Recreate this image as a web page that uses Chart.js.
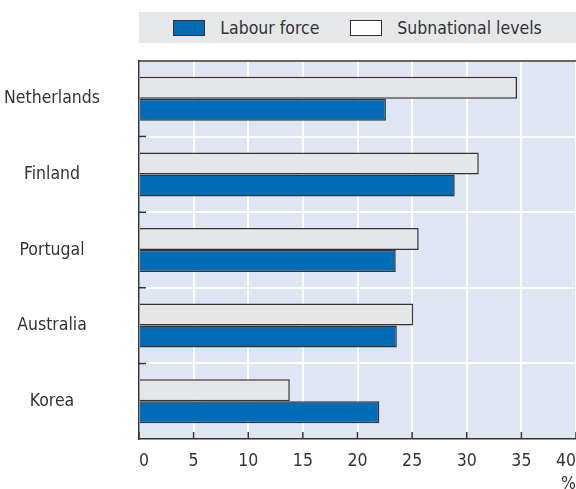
<!DOCTYPE html>
<html>
<head>
<meta charset="utf-8">
<script src="https://cdn.jsdelivr.net/npm/chart.js@4.4.1/dist/chart.umd.min.js"></script>
<style>
    html, body { margin: 0; padding: 0; background: #fff; overflow: hidden; }
    #wrap { position: relative; width: 576px; height: 489px; }
    #legend {
        position: absolute; left: 139px; top: 12px; width: 437px; height: 31px;
        background: #e6e7e9; display: flex; align-items: center; justify-content: center;
        font-family: 'DejaVu Sans Condensed', sans-serif;
        font-size: 17.5px; color: #333;
    }
    .key { display: inline-block; width: 30px; height: 14px; border: 1px solid #333; margin-right: 15px; }
    .gap { display: inline-block; width: 31px; }
</style>
</head>
<body>
<div id="wrap">
    <canvas id="chart" width="576" height="489"></canvas>
    <div id="legend"></div>
</div>
<script>
const countries = ['Netherlands', 'Finland', 'Portugal', 'Australia', 'Korea'];
const labourForce = [22.6, 28.9, 23.5, 23.6, 22.0];
const subnational = [34.6, 31.1, 25.6, 25.1, 13.8];
const xTicks = [0, 5, 10, 15, 20, 25, 30, 35, 40];

const BLUE = '#006bb6';
const GREY = '#e5e6e8';
const INK = '#333333';
const FONT = "'DejaVu Sans Condensed', sans-serif";

// legend: labour force first, like the usual publication layout
document.getElementById('legend').innerHTML =
    `<span class="key" style="background:${BLUE}"></span><span>Labour force</span>` +
    `<span class="gap"></span>` +
    `<span class="key" style="background:#fff"></span><span>Subnational levels</span>`;

// panel background, top rule and the short inward ticks on both axes
const plotFrame = {
    id: 'plotFrame',
    beforeDraw(chart) {
        const { ctx, chartArea: a } = chart;
        ctx.save();
        ctx.fillStyle = '#dfe5f3';
        ctx.fillRect(a.left, a.top, a.right - a.left, a.bottom - a.top);
        ctx.restore();
    },
    afterDatasetsDraw(chart) {
        const { ctx, chartArea: a, scales } = chart;
        ctx.save();
        ctx.strokeStyle = INK;
        ctx.lineWidth = 1.5;
        ctx.beginPath();
        ctx.moveTo(a.left, a.top);
        ctx.lineTo(a.right, a.top);
        // x ticks pointing up into the panel
        xTicks.forEach(v => {
            const x = scales.x.getPixelForValue(v);
            ctx.moveTo(x, a.bottom);
            ctx.lineTo(x, a.bottom - 7);
        });
        // y ticks at the boundaries between countries
        for (let i = 0; i < countries.length - 1; i++) {
            const y = (scales.y.getPixelForValue(i) + scales.y.getPixelForValue(i + 1)) / 2;
            ctx.moveTo(a.left, y);
            ctx.lineTo(a.left + 7, y);
        }
        ctx.stroke();
        ctx.restore();
    }
};

new Chart(document.getElementById('chart'), {
    type: 'bar',
    data: {
        labels: countries,
        datasets: [
            {
                label: 'Subnational levels',
                data: subnational,
                backgroundColor: GREY,
                borderColor: INK,
                borderWidth: 1.5
            },
            {
                label: 'Labour force',
                data: labourForce,
                backgroundColor: BLUE,
                borderColor: INK,
                borderWidth: 1.5
            }
        ]
    },
    options: {
        indexAxis: 'y',
        responsive: false,
        animation: false,
        categoryPercentage: 0.582,
        barPercentage: 1,
        // the panel runs a little past the right edge, so 40 sits just off-canvas
        layout: { padding: { top: 61, right: -2.3, left: 0, bottom: 0 } },
        plugins: {
            legend: { display: false },
            tooltip: { enabled: false }
        },
        scales: {
            x: {
                min: 0,
                max: 40,
                afterBuildTicks: scale => { scale.ticks = xTicks.map(v => ({ value: v })); },
                afterFit: scale => {
                    scale.height = 50;
                    scale.paddingLeft = 0;
                    scale.paddingRight = 0;
                },
                grid: { color: '#ffffff', lineWidth: 2, drawTicks: false },
                border: { color: INK, width: 1.5 },
                ticks: {
                    color: INK, padding: 12, align: 'inner',
                    font: { family: FONT, size: 17.5, lineHeight: 1.2 }
                },
                title: {
                    display: true, text: '%', align: 'end', color: INK,
                    padding: { top: 0, bottom: -6 }, font: { family: FONT, size: 17.5, lineHeight: 1.2 }
                }
            },
            y: {
                afterFit: scale => {
                    scale.width = 139;
                    scale.paddingTop = 0;
                    scale.paddingBottom = 0;
                },
                grid: { color: '#ffffff', lineWidth: 2, drawTicks: false },
                border: { color: INK, width: 1.5 },
                ticks: { color: INK, padding: 39, crossAlign: 'center', font: { family: FONT, size: 17.5 } }
            }
        }
    },
    plugins: [plotFrame]
});
</script>
</body>
</html>
